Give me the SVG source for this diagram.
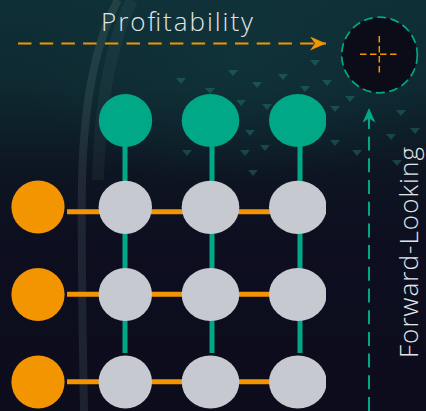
<svg xmlns="http://www.w3.org/2000/svg" width="426" height="411" viewBox="0 0 426 411">
  <defs>
    <linearGradient id="bg" x1="0" y1="0" x2="0" y2="1">
      <stop offset="0" stop-color="#0f2f36"/>
      <stop offset="0.22" stop-color="#0e2830"/>
      <stop offset="0.42" stop-color="#0d1522"/>
      <stop offset="0.6" stop-color="#0d0e1f"/>
      <stop offset="1" stop-color="#0c0c1c"/>
    </linearGradient>
    <radialGradient id="glow" cx="0.55" cy="0.25" r="0.5">
      <stop offset="0" stop-color="#123a40" stop-opacity="0.5"/>
      <stop offset="1" stop-color="#123a40" stop-opacity="0"/>
    </radialGradient>
    <clipPath id="clipRight">
      <rect x="0" y="0" width="326" height="411"/>
    </clipPath>
    <marker id="arrOrange" viewBox="0 0 16 14" refX="16" refY="7" markerWidth="16" markerHeight="14" markerUnits="userSpaceOnUse" orient="auto">
      <path d="M16,7 L0,0 L5,7 L0,14 Z" fill="#f39500"/>
    </marker>
    <marker id="arrTeal" viewBox="0 0 16 14" refX="16" refY="7" markerWidth="16" markerHeight="13" markerUnits="userSpaceOnUse" orient="auto">
      <path d="M16,7 L0,0 L5,7 L0,14 Z" fill="#00a887"/>
    </marker>
    <path id="tri" d="M0,0 L10,0 L5,6 Z"/>
  </defs>
  <style>
    .teal { fill: #00a887; }
    .gray { fill: #c7c9d1; }
    .orange { fill: #f39500; }
    .vline { stroke: #00a887; stroke-width: 5; fill: none; }
    .hline { stroke: #f39500; stroke-width: 5; fill: none; }
    .label { font-family: "Open Sans", "Liberation Sans", sans-serif; font-weight: 300; font-size: 26px; fill: #e2e5e8; }
  </style>

  <!-- background -->
  <rect x="0" y="0" width="426" height="411" fill="url(#bg)"/>
  <rect x="0" y="0" width="426" height="250" fill="url(#glow)"/>
  <path d="M118,0 C96,40 84,100 82,180 C81,240 82,300 84,411" fill="none" stroke="#8fa7ad" stroke-opacity="0.14" stroke-width="8"/>
  <path d="M132,0 C112,40 100,100 98,180" fill="none" stroke="#8fa7ad" stroke-opacity="0.07" stroke-width="12"/>
  <g fill="#34a394" fill-opacity="0.3">
    <use href="#tri" x="176" y="78"/><use href="#tri" x="205" y="88"/><use href="#tri" x="228" y="70"/>
    <use href="#tri" x="252" y="82"/><use href="#tri" x="278" y="74"/><use href="#tri" x="300" y="86"/>
    <use href="#tri" x="322" y="80"/><use href="#tri" x="190" y="104"/><use href="#tri" x="236" y="100"/>
    <use href="#tri" x="262" y="104"/><use href="#tri" x="330" y="106"/><use href="#tri" x="345" y="96"/>
    <use href="#tri" x="396" y="110"/><use href="#tri" x="410" y="128"/><use href="#tri" x="386" y="134"/>
    <use href="#tri" x="182" y="150"/><use href="#tri" x="240" y="150"/><use href="#tri" x="248" y="170"/>
    <use href="#tri" x="330" y="140"/><use href="#tri" x="352" y="150"/><use href="#tri" x="392" y="160"/>
    <use href="#tri" x="245" y="130"/><use href="#tri" x="260" y="145"/><use href="#tri" x="310" y="60"/>
  </g>

  <!-- connectors -->
  <g id="connectors">
    <line class="vline" x1="125" y1="140" x2="125" y2="353"/>
    <line class="vline" x1="212" y1="140" x2="212" y2="353"/>
    <line class="vline" x1="300" y1="140" x2="300" y2="353"/>
    <g clip-path="url(#clipRight)">
      <line class="hline" x1="67" y1="211.7" x2="326" y2="211.7"/>
      <line class="hline" x1="67" y1="294.3" x2="326" y2="294.3"/>
      <line class="hline" x1="67" y1="381.7" x2="326" y2="381.7"/>
    </g>
    <line x1="18" y1="43.5" x2="326" y2="43.5" stroke="#f39500" stroke-width="2.2" stroke-dasharray="13.5 8.2" marker-end="url(#arrOrange)"/>
    <line x1="369" y1="411" x2="369" y2="108" stroke="#00a887" stroke-width="2" stroke-dasharray="14 7.7" marker-end="url(#arrTeal)"/>
  </g>

  <!-- top teal nodes -->
  <g id="t1"><ellipse class="teal" cx="125.5" cy="120.5" rx="26.7" ry="26.5"/></g>
  <g id="t2"><ellipse class="teal" cx="210.5" cy="120.5" rx="28.8" ry="26.5"/></g>
  <g id="t3" clip-path="url(#clipRight)"><ellipse class="teal" cx="297.8" cy="120.5" rx="28.8" ry="26.5"/></g>

  <!-- orange nodes -->
  <g id="o1"><circle class="orange" cx="38" cy="207" r="26.6"/></g>
  <g id="o2"><circle class="orange" cx="38" cy="294.5" r="26.6"/></g>
  <g id="o3"><circle class="orange" cx="38" cy="382" r="26.6"/></g>

  <!-- gray nodes -->
  <g id="g11"><ellipse class="gray" cx="125.3" cy="207.3" rx="26.7" ry="26.6"/></g>
  <g id="g12"><ellipse class="gray" cx="210.5" cy="207.3" rx="28.8" ry="26.6"/></g>
  <g id="g13" clip-path="url(#clipRight)"><ellipse class="gray" cx="297.8" cy="207.3" rx="28.8" ry="26.6"/></g>
  <g id="g21"><ellipse class="gray" cx="125.3" cy="294.5" rx="26.7" ry="26.6"/></g>
  <g id="g22"><ellipse class="gray" cx="210.5" cy="294.5" rx="28.8" ry="26.6"/></g>
  <g id="g23" clip-path="url(#clipRight)"><ellipse class="gray" cx="297.8" cy="294.5" rx="28.8" ry="26.6"/></g>
  <g id="g31"><ellipse class="gray" cx="125.3" cy="382" rx="26.7" ry="26.6"/></g>
  <g id="g32"><ellipse class="gray" cx="210.5" cy="382" rx="28.8" ry="26.6"/></g>
  <g id="g33" clip-path="url(#clipRight)"><ellipse class="gray" cx="297.8" cy="382" rx="28.8" ry="26.6"/></g>

  <!-- target -->
  <g id="target">
    <circle cx="379.5" cy="55" r="37.8" fill="#0c0c18" stroke="#00a887" stroke-width="1.7" stroke-dasharray="9 4.5"/>
    <line x1="360" y1="54.3" x2="399" y2="54.3" stroke="#f39500" stroke-width="1.5" stroke-dasharray="6.5 3.5"/>
    <line x1="379.3" y1="36" x2="379.3" y2="74" stroke="#f39500" stroke-width="1.5" stroke-dasharray="6.5 3.5"/>
  </g>

  <!-- labels -->
  <g id="label-profitability">
    <text class="label" x="101" y="30.5" textLength="152" lengthAdjust="spacing">Profitability</text>
  </g>
  <g id="label-forward">
    <text class="label" transform="translate(418,358) rotate(-90)" x="0" y="0" textLength="211" lengthAdjust="spacing">Forward-Looking</text>
  </g>
</svg>
